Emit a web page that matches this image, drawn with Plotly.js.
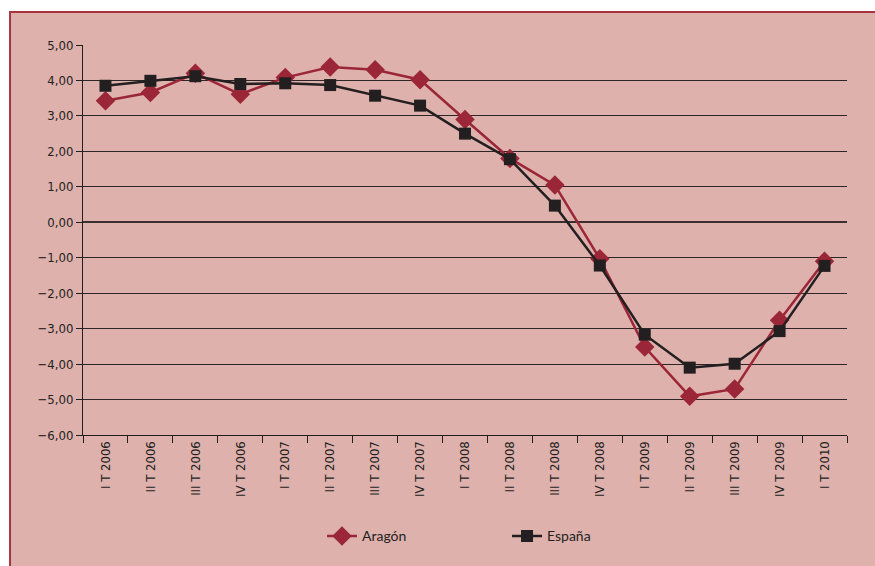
<!DOCTYPE html>
<html>
<head>
<meta charset="utf-8">
<script src="https://cdn.plot.ly/plotly-3.0.1.min.js"></script>
<style>html,body{margin:0;padding:0;background:#fff;}#chart{width:875px;height:566px;}</style>
</head>
<body>
<div id="chart"></div>
<script>
const categories = ["I T 2006","II T 2006","III T 2006","IV T 2006","I T 2007","II T 2007","III T 2007","IV T 2007","I T 2008","II T 2008","III T 2008","IV T 2008","I T 2009","II T 2009","III T 2009","IV T 2009","I T 2010"];
const aragon = [3.43, 3.66, 4.20, 3.61, 4.08, 4.38, 4.30, 4.02, 2.90, 1.80, 1.05, -1.03, -3.52, -4.91, -4.70, -2.76, -1.10];
const espana = [3.85, 3.99, 4.12, 3.90, 3.92, 3.87, 3.57, 3.29, 2.50, 1.78, 0.47, -1.22, -3.17, -4.10, -3.99, -3.07, -1.23];
const yTicks = [5,4,3,2,1,0,-1,-2,-3,-4,-5,-6];
const yTickText = ["5,00","4,00","3,00","2,00","1,00","0,00","\u22121,00","\u22122,00","\u22123,00","\u22124,00","\u22125,00","\u22126,00"];

const pink = "#deb1ad";
const data = [
  {x: categories, y: aragon, name: "Aragón", type: "scatter", mode: "lines+markers",
   line: {color: "#9b2637", width: 2.5}, marker: {symbol: "diamond", size: 15, color: "#9b2637"}},
  {x: categories, y: espana, name: "España", type: "scatter", mode: "lines+markers",
   line: {color: "#231f20", width: 2.5}, marker: {symbol: "square", size: 12, color: "#231f20"}}
];
const layout = {
  width: 875, height: 566,
  paper_bgcolor: "#ffffff", plot_bgcolor: "rgba(0,0,0,0)",
  margin: {l: 83, r: 28, t: 45, b: 131},
  font: {family: "'Liberation Sans Narrow', 'DejaVu Sans Condensed', sans-serif", color: "#231f20"},
  showlegend: true,
  legend: {orientation: "h", x: 0.555, xanchor: "center", y: -0.26, yanchor: "middle",
    font: {family: "Lato, 'Noto Sans', sans-serif", size: 14, color: "#231f20"},
    bgcolor: "rgba(0,0,0,0)", entrywidth: 140, entrywidthmode: "pixels"},
  xaxis: {type: "category", tickson: "boundaries", ticks: "outside", ticklen: 7, tickcolor: "#231f20",
    showline: true, linecolor: "#231f20", linewidth: 1, showgrid: false, tickangle: -90,
    tickfont: {size: 13}, range: [-0.5, 16.5], fixedrange: true},
  yaxis: {range: [-6, 5], tickvals: yTicks, ticktext: yTickText, ticks: "outside", ticklen: 6,
    tickcolor: "#231f20", showline: true, linecolor: "#231f20", linewidth: 1,
    showgrid: true, gridcolor: "#2e2626", gridwidth: 1,
    zeroline: true, zerolinecolor: "#3a3030", zerolinewidth: 1.6,
    tickfont: {size: 13}, fixedrange: true},
  shapes: [
    {type: "rect", xref: "paper", yref: "paper", x0: -0.0955, x1: 1.2, y0: -0.5, y1: 1.0846,
     fillcolor: pink, line: {color: "#a8343f", width: 2}, layer: "below"}
  ]
};
Plotly.newPlot("chart", data, layout, {displayModeBar: false, staticPlot: true});
</script>
</body>
</html>
